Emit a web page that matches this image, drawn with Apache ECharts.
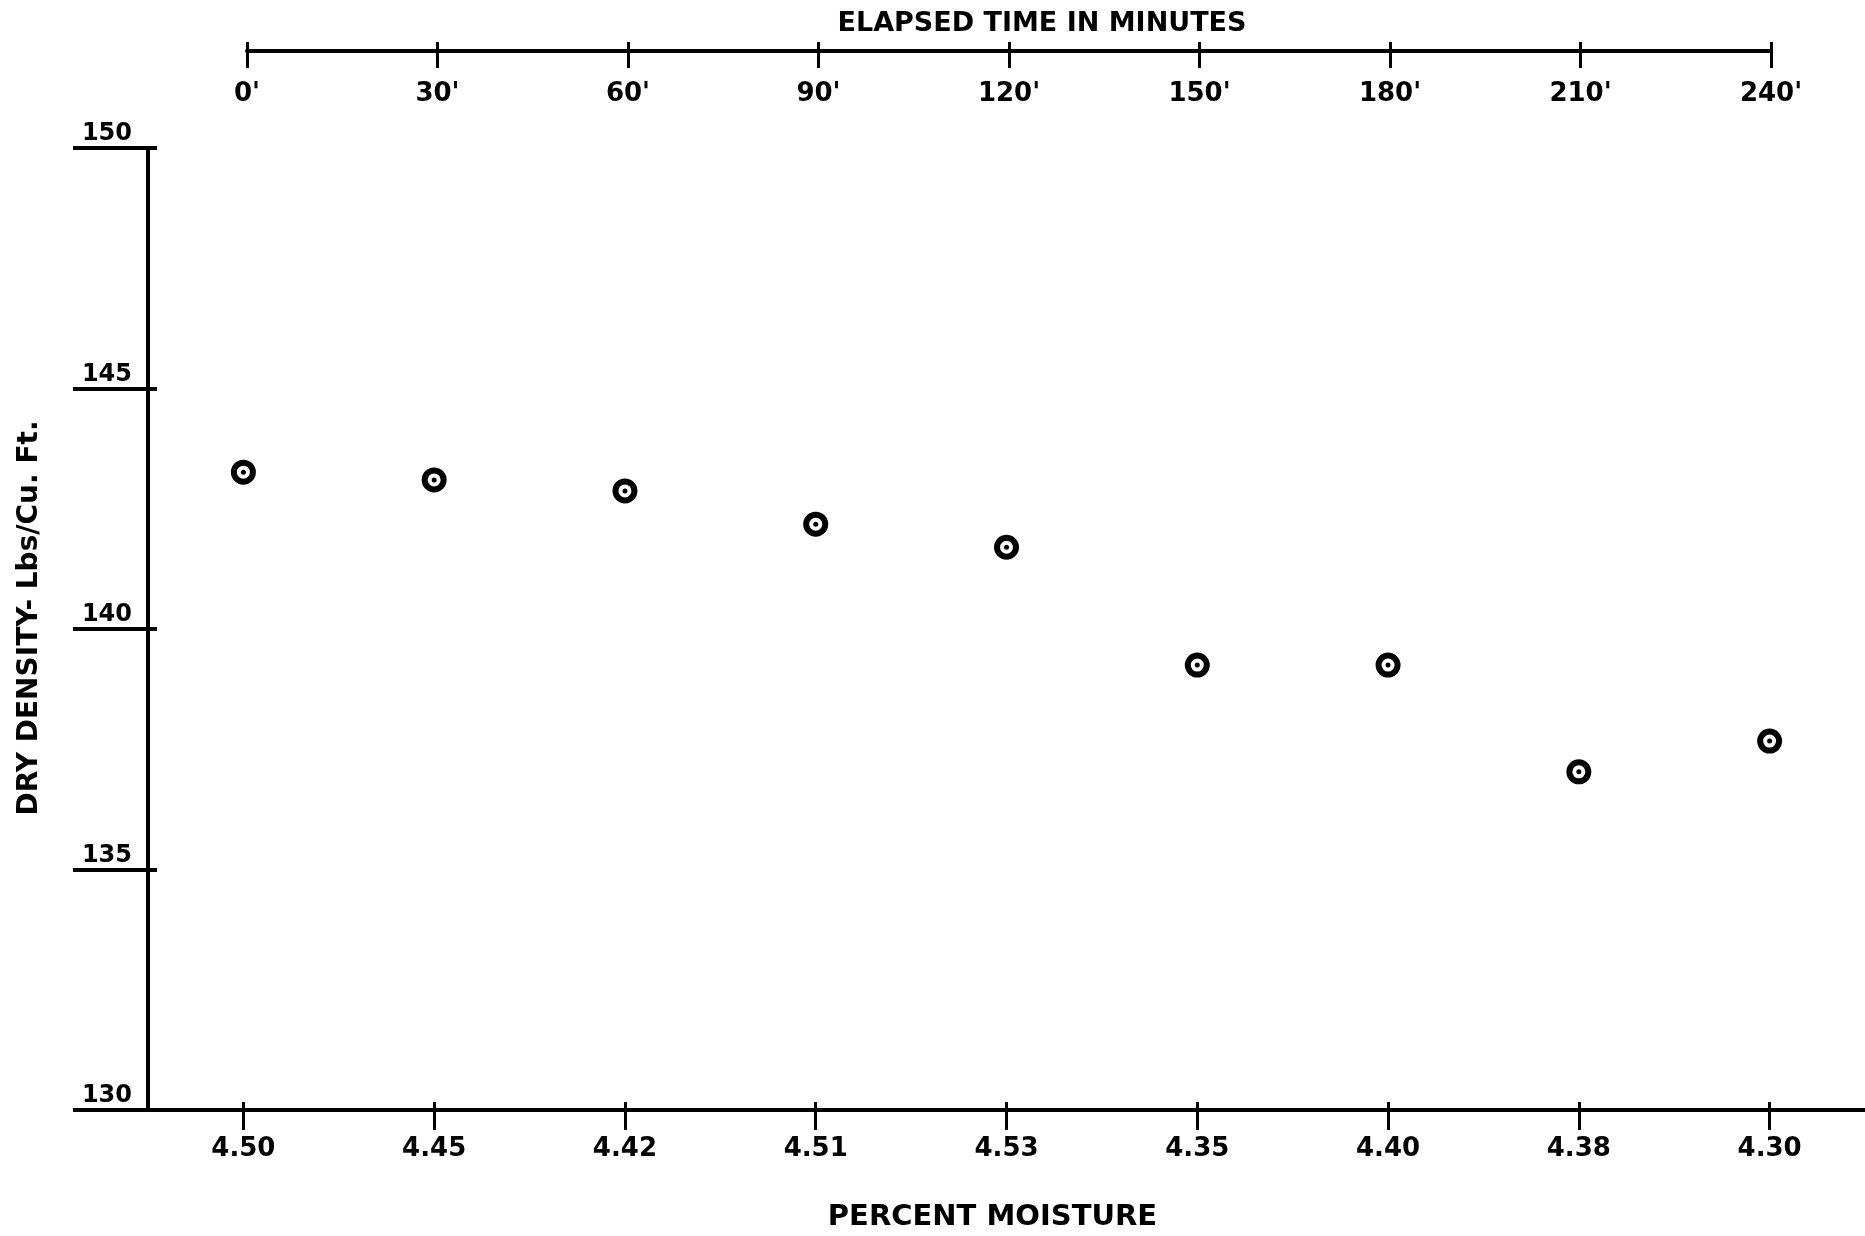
<!DOCTYPE html>
<html>
<head>
<meta charset="utf-8">
<script src="https://cdn.jsdelivr.net/npm/echarts@6/dist/echarts.min.js"></script>
<style>
  html, body { margin: 0; padding: 0; background: #fff; }
  #chart { width: 1865px; height: 1236px; }
</style>
</head>
<body>
<div id="chart"></div>
<script>
// moisture readings (bottom axis), one per sample
var moisture = ['4.50', '4.45', '4.42', '4.51', '4.53', '4.35', '4.40', '4.38', '4.30'];
// dry density, lbs / cu. ft.
var density = [143.26, 143.10, 142.87, 142.18, 141.70, 139.25, 139.25, 137.03, 137.67];
// elapsed time scale on top (minutes)
var timeMin = 0, timeMax = 240, timeStep = 30;
var densMin = 130, densMax = 150, densStep = 5;

var chart = echarts.init(document.getElementById('chart'));
var ink = '#000';
var font = 'DejaVu Sans';

var points = density.map(function (v, i) { return [i, v]; });

option = {
    backgroundColor: '#fff',
    animation: false,
    grid: [
        { left: 148, top: 148, right: 0, bottom: 126, outerBoundsMode: 'none' },
        { left: 247, top: 51, right: 94, height: 10, outerBoundsMode: 'none' }
    ],
    xAxis: [
        {
            gridIndex: 0, type: 'category', data: moisture, position: 'bottom',
            boundaryGap: true,
            name: 'PERCENT MOISTURE', nameLocation: 'middle', nameGap: 93,
            nameTextStyle: { fontFamily: font, fontWeight: 'bold', fontSize: 29, color: ink, padding: [0, 28, 0, 0] },
            axisLine: { show: true, onZero: false, lineStyle: { color: ink, width: 4 } },
            axisTick: { show: true, alignWithLabel: true, length: 20, lineStyle: { color: ink, width: 3 } },
            axisLabel: { margin: 26, fontFamily: font, fontWeight: 'bold', fontSize: 26, color: ink },
            splitLine: { show: false }
        },
        {
            // short tick stubs above the bottom line
            gridIndex: 0, type: 'category', data: moisture, position: 'bottom',
            boundaryGap: true,
            axisLine: { show: false, onZero: false },
            axisTick: { show: true, alignWithLabel: true, inside: true, length: 8, lineStyle: { color: ink, width: 3 } },
            axisLabel: { show: false },
            splitLine: { show: false }
        },
        {
            gridIndex: 1, type: 'value', position: 'top',
            min: timeMin, max: timeMax, interval: timeStep,
            name: 'ELAPSED TIME IN MINUTES', nameLocation: 'middle', nameGap: 14,
            nameTextStyle: { fontFamily: font, fontWeight: 'bold', fontSize: 27, color: ink, padding: [0, 0, 0, 66] },
            axisLine: { show: true, onZero: false, lineStyle: { color: ink, width: 4 } },
            axisTick: { show: true, inside: true, length: 17, lineStyle: { color: ink, width: 3 } },
            axisLabel: {
                inside: true, margin: 30, fontFamily: font, fontWeight: 'bold', fontSize: 26, color: ink,
                formatter: function (v) { return v + "'"; }
            },
            splitLine: { show: false }
        },
        {
            gridIndex: 1, type: 'value', position: 'top',
            min: timeMin, max: timeMax, interval: timeStep,
            axisLine: { show: false, onZero: false },
            axisTick: { show: true, length: 9, lineStyle: { color: ink, width: 3 } },
            axisLabel: { show: false },
            splitLine: { show: false }
        }
    ],
    yAxis: [
        {
            gridIndex: 0, type: 'value', min: densMin, max: densMax, interval: densStep,
            name: 'DRY DENSITY- Lbs/Cu. Ft.', nameLocation: 'middle', nameGap: 104,
            nameTextStyle: { fontFamily: font, fontWeight: 'bold', fontSize: 28, color: ink, padding: [0, 0, 0, 22] },
            axisLine: { show: true, onZero: false, lineStyle: { color: ink, width: 4 } },
            axisTick: { show: true, length: 75, lineStyle: { color: ink, width: 4 } },
            axisLabel: {
                margin: 16, fontFamily: font, fontWeight: 'bold', fontSize: 24, color: ink,
                verticalAlign: 'bottom', padding: [0, 0, 2, 0]
            },
            splitLine: { show: false }
        },
        {
            gridIndex: 0, type: 'value', min: densMin, max: densMax, interval: densStep,
            position: 'left',
            axisLine: { show: false, onZero: false },
            axisTick: { show: true, inside: true, length: 9, lineStyle: { color: ink, width: 4 } },
            axisLabel: { show: false },
            splitLine: { show: false }
        },
        { gridIndex: 1, type: 'value', show: false }
    ],
    series: [
        {
            type: 'scatter', xAxisIndex: 0, yAxisIndex: 0,
            data: points,
            symbol: 'circle', symbolSize: 19,
            itemStyle: { color: '#fff', borderColor: ink, borderWidth: 6, opacity: 1 }
        },
        {
            type: 'scatter', xAxisIndex: 0, yAxisIndex: 0,
            data: points,
            symbol: 'circle', symbolSize: 5,
            itemStyle: { color: ink, opacity: 1 }
        }
    ]
};

chart.setOption(option, true);
</script>
</body>
</html>
